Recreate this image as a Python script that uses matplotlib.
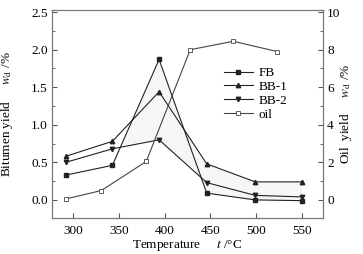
import numpy as np
import matplotlib
matplotlib.use("Agg")
import matplotlib.pyplot as plt
from matplotlib.ticker import MultipleLocator

plt.rcParams["font.family"] = ["Liberation Serif", "DejaVu Serif"]
plt.rcParams["mathtext.fontset"] = "stix"

# bitumen yield, left axis (%)
temp = np.array([292, 343, 394, 446, 499, 550])
fb = np.array([0.33, 0.46, 1.87, 0.09, 0.00, -0.01])
bb1 = np.array([0.58, 0.78, 1.44, 0.48, 0.24, 0.24])
bb2 = np.array([0.50, 0.68, 0.80, 0.23, 0.06, 0.04])

# oil yield, right axis (%)
oil_temp = np.array([292, 331, 380, 428, 475, 523])
oil = np.array([0.05, 0.5, 2.05, 8.0, 8.45, 7.9])

fig = plt.figure(figsize=(3.63, 2.54), dpi=100)
ax = fig.add_axes([0.143, 0.142, 0.747, 0.819])
ax2 = ax.twinx()

# light shading between the bitumen curves
ax.fill_between(temp, fb, bb2, where=fb >= bb2, interpolate=True,
                color="#f6f6f6", lw=0, zorder=0)
ax.fill_between(temp, bb1, fb, where=temp >= 394, interpolate=True,
                color="#f6f6f6", lw=0, zorder=0)

lc = "#222222"
h1, = ax.plot(temp, fb, "-s", color=lc, lw=0.8, ms=3.2, label="FB")
h2, = ax.plot(temp, bb1, "-^", color=lc, lw=0.8, ms=3.2, label="BB-1")
h3, = ax.plot(temp, bb2, "-v", color=lc, lw=0.8, ms=3.2, label="BB-2")
h4, = ax2.plot(oil_temp, oil, "-s", color="#444444", lw=0.8, ms=3,
               mfc="white", mec="#444444", mew=0.6, label="oil")

ax.set_xlim(277, 573)
ax.set_ylim(-0.24, 2.53)
ax2.set_ylim(-0.96, 10.12)

ax.set_xticks([300, 350, 400, 450, 500, 550])
ax.yaxis.set_major_locator(MultipleLocator(0.5))
ax.yaxis.set_minor_locator(MultipleLocator(0.25))
ax2.yaxis.set_major_locator(MultipleLocator(2))
ax2.yaxis.set_minor_locator(MultipleLocator(1))

fs = 9.5
for a in (ax, ax2):
    a.tick_params(which="both", direction="in", labelsize=fs, color="#555555")
    a.tick_params(which="major", length=3.5)
    a.tick_params(which="minor", length=2)
    for s in a.spines.values():
        s.set_color("#777777")
        s.set_linewidth(0.8)
ax.tick_params(axis="x", pad=5)
ax.tick_params(axis="y", pad=3)
ax2.tick_params(axis="y", pad=3)

ax.set_xlabel("Temperature     $t$ /°C", fontsize=fs, labelpad=1)
ax.set_ylabel("Bitumen yield     $w_{\\rm d}$ /%", fontsize=fs)
ax2.set_ylabel("Oil  yield     $w_{\\rm d}$ /%", fontsize=fs,
               rotation=90, va="center", ha="center")
ax.yaxis.set_label_coords(-0.137, 0.5)
ax2.yaxis.set_label_coords(1.085, 0.5)

ax2.legend(handles=[h1, h2, h3, h4], loc="upper left",
           bbox_to_anchor=(0.60, 0.77), frameon=False, fontsize=fs,
           handlelength=2.2, handletextpad=0.4, labelspacing=0.12,
           borderpad=0.2)

fig.savefig("out.png", dpi=100)
